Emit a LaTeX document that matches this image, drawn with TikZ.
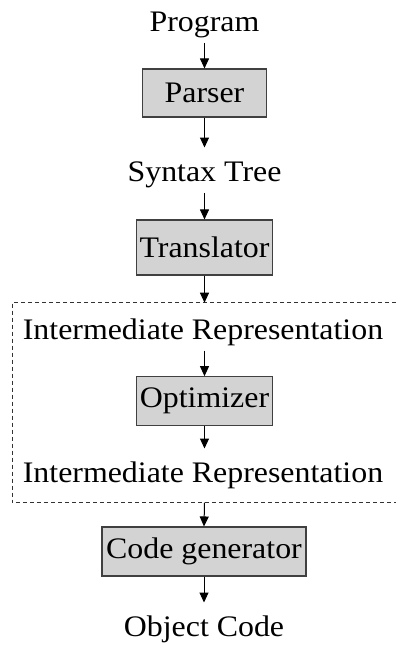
\documentclass[tikz,border=0pt]{standalone}
\usepackage{fontspec}
\setmainfont{Liberation Serif}[FakeStretch=1.07]
\usetikzlibrary{arrows.meta}
\tikzset{
  lbl/.style={inner sep=0pt, anchor=base, text height=19pt, text depth=0pt, font=\fontsize{29.8}{34}\selectfont},
  stage/.style={draw=black!75, line width=1.1pt, fill={rgb,255:red,211;green,211;blue,211}, inner sep=0pt, font=\fontsize{29.8}{34}\selectfont},
  flow/.style={-{Triangle[width=9pt,length=10pt]}, line width=1pt},
  fromtext/.style={shorten <=11pt},
  totext/.style={shorten >=15pt},
  frame/.style={dashed, dash pattern=on 4pt off 3pt, line width=0.8pt, draw=black!80}
}
\begin{document}
\begin{tikzpicture}[x=1pt,y=-1pt]
\useasboundingbox (0,0) rectangle (396,645);
\node[lbl] (prog) at (204.5,31.7) {Program};
\node[stage, minimum width=124pt, minimum height=48pt] (parser) at (204.5,93) {Parser};
\node[lbl] (syntax) at (204.5,181.7) {Syntax Tree};
\node[stage, minimum width=136.7pt, minimum height=55pt] (trans) at (204.5,247.5) {Translator};
\coordinate (ftop) at (204.5,302.7);
\coordinate (fbot) at (204.5,502.7);
\draw[frame] (396,302.7) -- (12,302.7) -- (12,502.7) -- (396,502.7);
\node[lbl] (ir1) at (203,339.3) {Intermediate Representation};
\node[stage, minimum width=136.7pt, minimum height=49pt] (opt) at (204.5,401.2) {Optimizer};
\node[lbl] (ir2) at (203,482.7) {Intermediate Representation};
\node[stage, minimum width=204pt, minimum height=49pt] (cg) at (204,551.5) {Code generator};
\node[lbl] (obj) at (204,636.7) {Object Code};
\draw[flow, fromtext] (prog.south) -- (parser.north);
\draw[flow, totext] (parser.south) -- (syntax.north);
\draw[flow, fromtext] (syntax.south) -- (trans.north);
\draw[flow] (trans.south) -- (ftop);
\draw[flow, fromtext] (ir1.south -| opt.north) -- (opt.north);
\draw[flow, totext] (opt.south) -- (opt.south |- ir2.north);
\draw[flow] (fbot) -- (cg.north);
\draw[flow, totext] (cg.south) -- (cg.south |- obj.north);
\end{tikzpicture}
\end{document}
